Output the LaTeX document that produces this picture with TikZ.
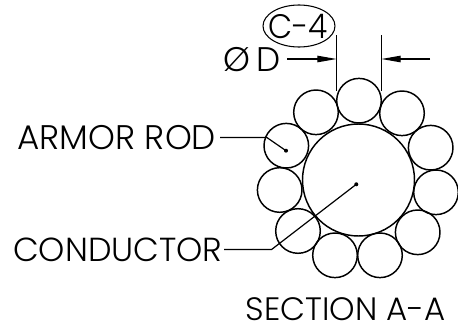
\documentclass[tikz,border=0pt]{standalone}
\usepackage{fontspec}
\setmainfont{Poppins Light}
\usetikzlibrary{arrows.meta,shapes.geometric}
\tikzset{
  rod/.style={circle,draw=black,line width=1.1pt,minimum size=44.6*0.75pt,inner sep=0pt},
  core/.style={circle,draw=black,line width=1.1pt,minimum size=112*0.75pt,inner sep=0pt},
  leader/.style={draw=black,line width=0.9pt},
  dim/.style={draw=black,line width=0.9pt,-{Triangle[length=14.5pt,width=4.8pt]}},
  lbl/.style={inner sep=0pt,outer sep=0pt,text=black},
  bigl/.style={lbl,font=\fontsize{25.6}{26}\selectfont},
  midl/.style={lbl,font=\fontsize{25}{26}\selectfont},
  secl/.style={lbl,font=\fontsize{24.3}{25}\selectfont},
  refl/.style={lbl,font=\fontsize{25.5}{26}\selectfont},
  dot/.style={circle,fill=black,inner sep=0pt,minimum size=3pt}
}
\begin{document}
\begin{tikzpicture}[x=0.75pt,y=-0.75pt]
\useasboundingbox (0,0) rectangle (458,329);
\node[core] (big) at (358.5,180) {};
\foreach \n/\x/\y in {a/359/100.7,b/316/112.3,c/402/113.3,d/430.7/147.7,e/436/192.3,f/417.7/232.3,g/380/255.3,h/335/255.3,i/298/231,j/279.7/190,k/286.3/145.7}{
  \node[rod] (r\n) at (\x,\y) {};
}
\node[dot] (dota) at (286,150.7) {};
\node[dot] (dotb) at (356.3,184.3) {};
\node[bigl,anchor=east] (armor) at (216,137.5) {ARMOR ROD};
\node[midl,anchor=east] (cond) at (222.5,249.5) {CONDUCTOR};
\node[secl,anchor=center] (sect) at (345.5,309) {SECTION A-A};
\node[refl,anchor=center] (ref) at (298,26) {\scalebox{0.92}[1]{C-4}};
\node[draw=black,line width=0.8pt,ellipse,minimum width=72*0.75pt,minimum height=42*0.75pt,inner sep=0pt] (refe) at (299,26) {};
\node[bigl,anchor=center] (dia) at (252,59.5) {Ø\,D};
\coordinate (ka) at (266.7,137.4);
\coordinate (kb) at (271.7,249.4);
\coordinate (la) at (220,137.4);
\coordinate (lb) at (224,249.4);
\draw[leader] (la) -- (ka) -- (dota.center);
\draw[leader] (lb) -- (kb) -- (dotb.center);
\coordinate (e1a) at (336.7,35); \coordinate (e1b) at (336.7,91);
\coordinate (e2a) at (381.3,35); \coordinate (e2b) at (381.3,91);
\draw[leader] (e1a) -- (e1b);
\draw[leader] (e2a) -- (e2b);
\coordinate (d1) at (287.3,59); \coordinate (d1e) at (336.7,59);
\coordinate (d2) at (430,59); \coordinate (d2e) at (381.3,59);
\draw[dim] (d1) -- (d1e);
\draw[dim] (d2) -- (d2e);
\end{tikzpicture}
\end{document}
